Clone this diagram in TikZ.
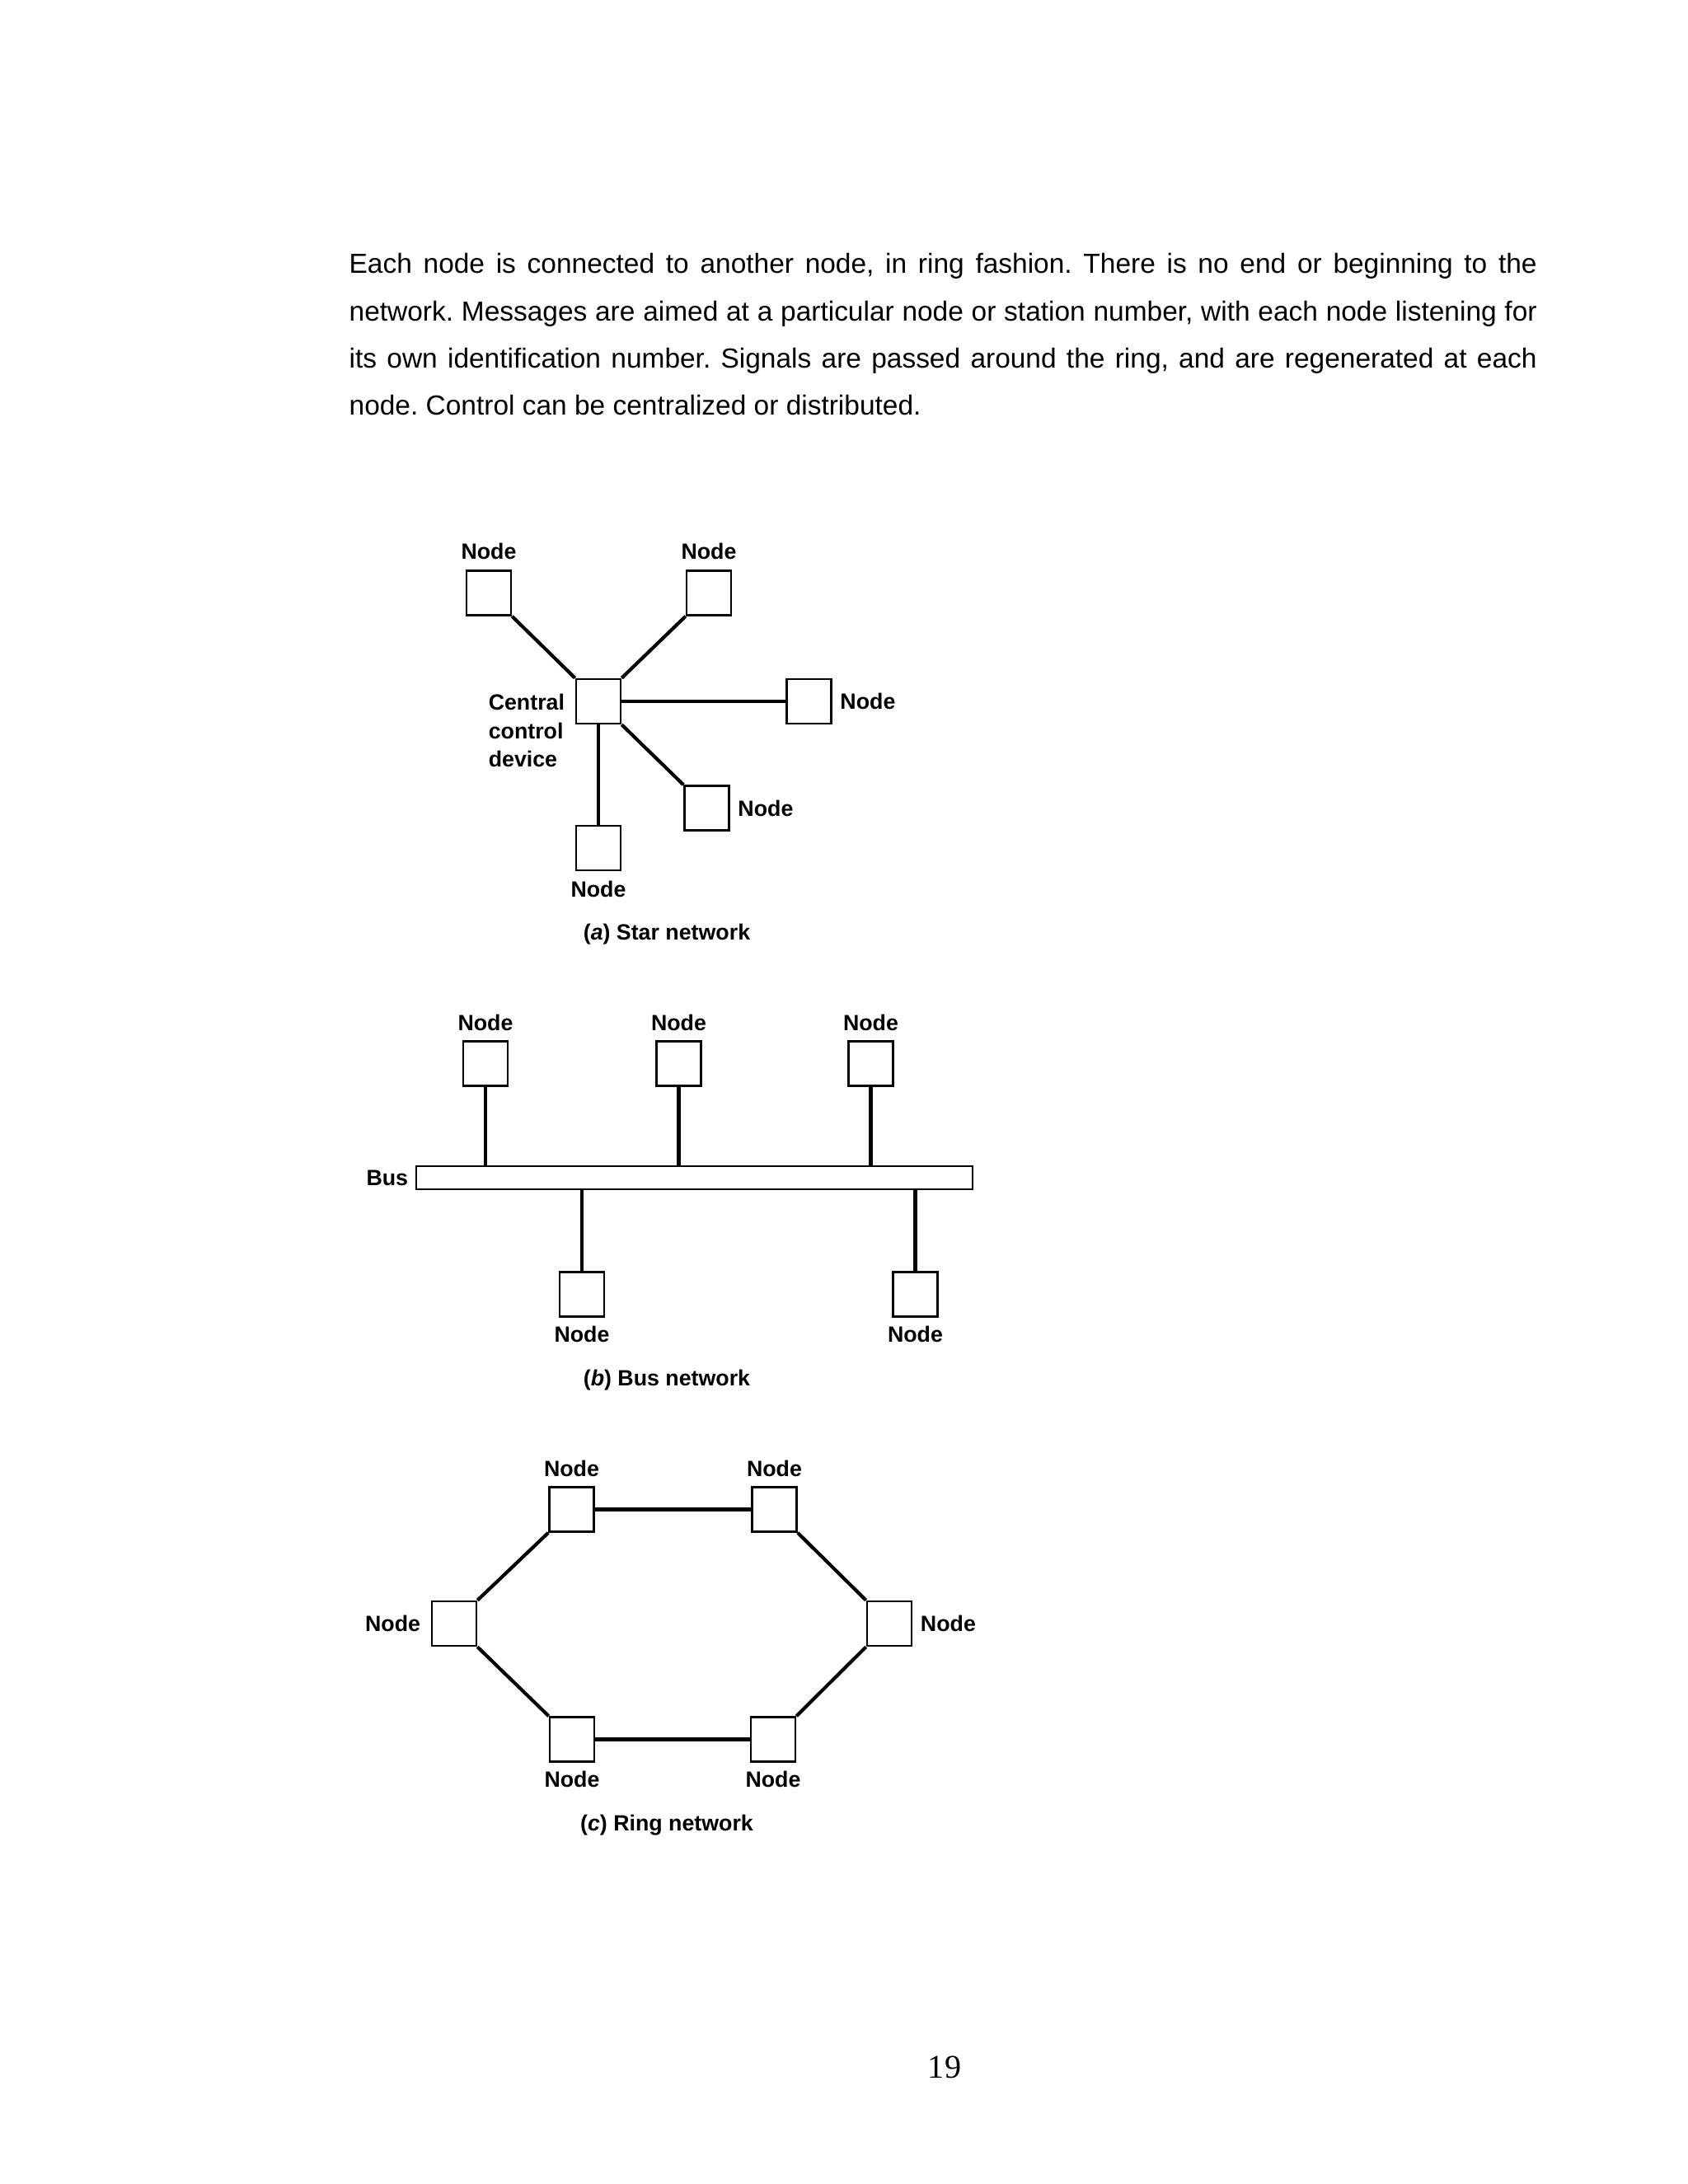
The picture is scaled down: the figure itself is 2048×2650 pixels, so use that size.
\documentclass[tikz,border=0pt]{standalone}
\usepackage{fontspec}
\setmainfont{Liberation Sans}
\newfontfamily\figfont{Liberation Sans}
\newfontfamily\pagefont{Liberation Serif}
\usepackage{tikz}
\usetikzlibrary{positioning}
\frenchspacing

\tikzset{
  station/.style={draw, line width=0.7pt, minimum size=16.2pt, inner sep=0pt},
  tag/.style={font=\figfont\bfseries\fontsize{8}{10.3}\selectfont, inner sep=0pt},
  link/.style={line width=1.25pt},
}

\begin{document}
\begin{tikzpicture}[x=0.2988pt, y=-0.2988pt]
\useasboundingbox (0,0) rectangle (2048,2650);

% Text above the figure
\node[anchor=north west, inner sep=0pt, text width=430.6pt, align=justify,
      font=\fontsize{10}{17.1}\selectfont] (para) at (423,307)
  {Each node is connected to another node, in ring fashion. There is no end or beginning to the\linebreak
   network. Messages are aimed at a particular node or station number, with each node listening for\linebreak
   its own identification number. Signals are passed around the ring, and are regenerated at each\linebreak
   node. Control can be centralized or distributed.};

% (a) Star
\node[station] (hub) at (726,851) {};
\node[station] (st1) at (593,719.5) {};
\node[station] (st2) at (860,719.5) {};
\node[station] (st3) at (981.5,851) {};
\node[station] (st4) at (857.5,980.5) {};
\node[station] (st5) at (726,1029) {};
\draw[link] (st1.south east) -- (hub.north west);
\draw[link] (st2.south west) -- (hub.north east);
\draw[link] (hub.east) -- (st3.west);
\draw[link] (hub.south east) -- (st4.north west);
\draw[link] (hub.south) -- (st5.north);
\node[tag, above=3.4pt of st1] (st1l) {Node};
\node[tag, above=3.4pt of st2] (st2l) {Node};
\node[tag, right=2.7pt of st3] (st3l) {Node};
\node[tag, right=2.7pt of st4] (st4l) {Node};
\node[tag, below=3.2pt of st5] (st5l) {Node};
\node[tag, align=left, anchor=north east] (hubl) at ([xshift=-3.6pt, yshift=-5.7pt]hub.north west) {Central\\control\\device};
\node[tag] (capa) at (809,1134) {(\textit{a}) Star network};

% (b) Bus
\node[draw, line width=0.7pt, minimum width=201.7pt, minimum height=8.4pt, inner sep=0pt] (bus) at (842.5,1429) {};
\node[station] (bt1) at (589,1290.5) {};
\node[station] (bt2) at (823.5,1290.5) {};
\node[station] (bt3) at (1056.5,1290.5) {};
\node[station] (bb1) at (706,1570.5) {};
\node[station] (bb2) at (1110.5,1570.5) {};
\draw[link] (bt1.south) -- (bt1.south |- bus.north);
\draw[link] (bt2.south) -- (bt2.south |- bus.north);
\draw[link] (bt3.south) -- (bt3.south |- bus.north);
\draw[link] (bb1.north) -- (bb1.north |- bus.south);
\draw[link] (bb2.north) -- (bb2.north |- bus.south);
\node[tag, above=3.3pt of bt1] (bt1l) {Node};
\node[tag, above=3.3pt of bt2] (bt2l) {Node};
\node[tag, above=3.3pt of bt3] (bt3l) {Node};
\node[tag, below=3pt of bb1] (bb1l) {Node};
\node[tag, below=3pt of bb2] (bb2l) {Node};
\node[tag, left=2.4pt of bus] (busl) {Bus};
\node[tag] (capb) at (809,1675) {(\textit{b}) Bus network};

% (c) Ring
\node[station] (r1) at (693.5,1831.5) {}; % top left
\node[station] (r2) at (939.5,1831.5) {}; % top right
\node[station] (r3) at (1079,1970) {};    % right
\node[station] (r4) at (938,2110.5) {};   % bottom right
\node[station] (r5) at (694,2110.5) {};   % bottom left
\node[station] (r6) at (551,1970) {};     % left
\draw[link] (r1.east) -- (r2.west);
\draw[link] (r2.south east) -- (r3.north west);
\draw[link] (r3.south west) -- (r4.north east);
\draw[link] (r4.west) -- (r5.east);
\draw[link] (r5.north west) -- (r6.south east);
\draw[link] (r6.north east) -- (r1.south west);
\node[tag, above=3.3pt of r1] (r1l) {Node};
\node[tag, above=3.3pt of r2] (r2l) {Node};
\node[tag, right=2.7pt of r3] (r3l) {Node};
\node[tag, below=3pt of r4] (r4l) {Node};
\node[tag, below=3pt of r5] (r5l) {Node};
\node[tag, left=3.6pt of r6] (r6l) {Node};
\node[tag] (capc) at (809,2215) {(\textit{c}) Ring network};

% Page number
\node[font=\pagefont\fontsize{12}{14}\selectfont, inner sep=0pt] (pgno) at (1146,2508) {19};
\end{tikzpicture}
\end{document}
